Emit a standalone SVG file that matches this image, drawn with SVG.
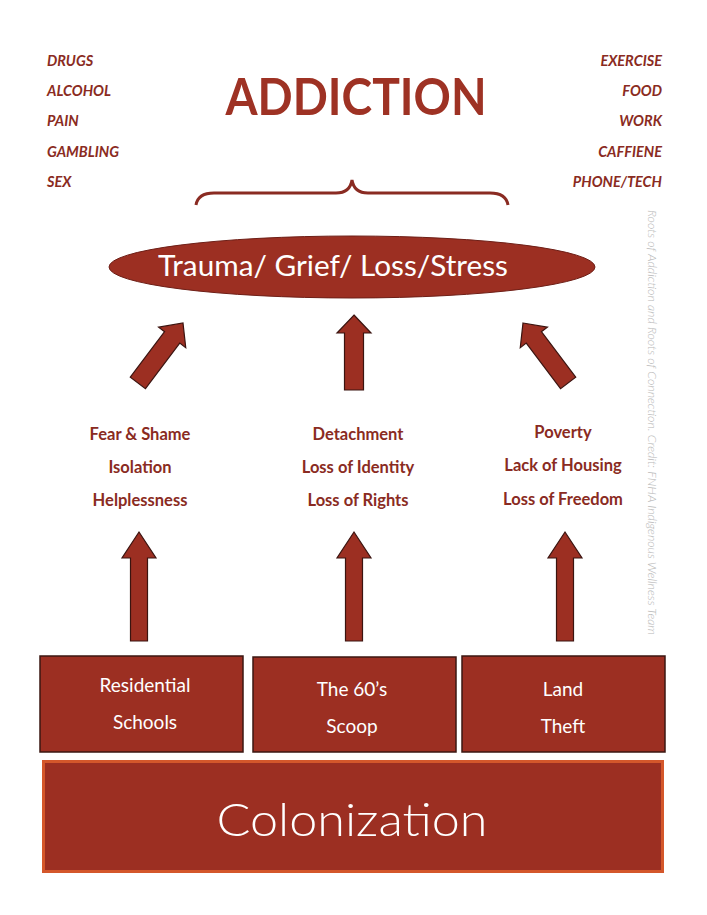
<svg xmlns="http://www.w3.org/2000/svg" width="707" height="915" viewBox="0 0 707 915">
<defs>
<style>
.side{font-family:Lato,"Open Sans","Liberation Sans",sans-serif;font-weight:700;font-style:italic;font-size:14.5px;fill:#8a2b22}
.mid{font-family:Lato,"Open Sans","Liberation Sans",sans-serif;font-weight:700;font-size:16.5px;fill:#8a2b22;text-anchor:middle}
.box{fill:#9c2f22;stroke:#3b1712;stroke-width:1.5}
.boxt{font-family:Lato,"Open Sans","Liberation Sans",sans-serif;font-size:19px;fill:#ffffff;text-anchor:middle}
.arrow{fill:#9c2f22;stroke:#3b1410;stroke-width:1.2;stroke-linejoin:miter}
</style>
<polygon id="aShort" points="0,0 17,18 9.5,18 9.5,75 -9.5,75 -9.5,18 -17,18"/>
<polygon id="aLong" points="0,0 17,26 8.5,26 8.5,109 -8.5,109 -8.5,26 -17,26"/>
</defs>
<rect width="707" height="915" fill="#ffffff"/>

<g id="left-list">
<text class="side" x="47" y="66">DRUGS</text>
<text class="side" x="47" y="96">ALCOHOL</text>
<text class="side" x="47" y="126">PAIN</text>
<text class="side" x="47" y="157">GAMBLING</text>
<text class="side" x="47" y="187">SEX</text>
</g>
<g id="right-list" text-anchor="end">
<text class="side" x="662" y="66">EXERCISE</text>
<text class="side" x="662" y="96">FOOD</text>
<text class="side" x="662" y="126">WORK</text>
<text class="side" x="662" y="157">CAFFIENE</text>
<text class="side" x="662" y="187">PHONE/TECH</text>
</g>

<g id="title">
<text x="356" y="115" text-anchor="middle" font-family="Lato,'Open Sans','Liberation Sans',sans-serif" font-weight="700" font-size="51" fill="#9e3224" textLength="261" lengthAdjust="spacingAndGlyphs">ADDICTION</text>
</g>

<g id="brace">
<path d="M196,205 Q198,193 214,193 L336,193 Q350,193 352,180 Q354,193 368,193 L490,193 Q506,193 508,205" fill="none" stroke="#8a2b22" stroke-width="3"/>
</g>

<g id="trauma">
<ellipse cx="352" cy="267" rx="243" ry="31" fill="#9c2f22" stroke="#6e1f17" stroke-width="1"/>
<text x="333" y="276" text-anchor="middle" font-family="Lato,'Open Sans','Liberation Sans',sans-serif" font-size="28" fill="#ffffff" textLength="350" lengthAdjust="spacingAndGlyphs">Trauma/ Grief/ Loss/Stress</text>
</g>

<g id="connectors">
<use href="#aShort" class="arrow" transform="translate(183,323) rotate(37)"/>
<use href="#aShort" class="arrow" transform="translate(354,315)"/>
<use href="#aShort" class="arrow" transform="translate(523,323) rotate(-37)"/>
<use href="#aLong" class="arrow" transform="translate(139,532)"/>
<use href="#aLong" class="arrow" transform="translate(354,532)"/>
<use href="#aLong" class="arrow" transform="translate(565,532)"/>
</g>

<g id="col1-effects">
<text class="mid" x="140" y="440">Fear &amp; Shame</text>
<text class="mid" x="140" y="473">Isolation</text>
<text class="mid" x="140" y="506">Helplessness</text>
</g>
<g id="col2-effects">
<text class="mid" x="358" y="440">Detachment</text>
<text class="mid" x="358" y="473">Loss of Identity</text>
<text class="mid" x="358" y="506">Loss of Rights</text>
</g>
<g id="col3-effects">
<text class="mid" x="563" y="438">Poverty</text>
<text class="mid" x="563" y="471">Lack of Housing</text>
<text class="mid" x="563" y="505">Loss of Freedom</text>
</g>

<g id="residential">
<rect class="box" x="40" y="656" width="203" height="96"/>
<text class="boxt" x="145" y="692">Residential</text>
<text class="boxt" x="145" y="729">Schools</text>
</g>
<g id="sixties">
<rect class="box" x="253" y="657" width="203" height="95"/>
<text class="boxt" x="352" y="696">The 60’s</text>
<text class="boxt" x="352" y="733">Scoop</text>
</g>
<g id="land">
<rect class="box" x="462" y="656" width="203" height="96"/>
<text class="boxt" x="563" y="696">Land</text>
<text class="boxt" x="563" y="733">Theft</text>
</g>

<g id="colonization">
<rect x="43.5" y="761.5" width="619" height="110" fill="#9c2f22" stroke="#d4572b" stroke-width="3"/>
<text x="352" y="836" text-anchor="middle" font-family="Lato,'Open Sans','Liberation Sans',sans-serif" font-weight="300" font-size="46" fill="#ffffff" textLength="271" lengthAdjust="spacingAndGlyphs">Colonization</text>
</g>

<g id="credit">
<text transform="translate(648,210) rotate(90)" font-family="Lato,'Open Sans','Liberation Sans',sans-serif" font-weight="300" font-style="italic" font-size="12" fill="#b8b8b8" textLength="425" lengthAdjust="spacingAndGlyphs">Roots of Addiction and Roots of Connection. Credit: FNHA Indigenous Wellness Team</text>
</g>
</svg>
